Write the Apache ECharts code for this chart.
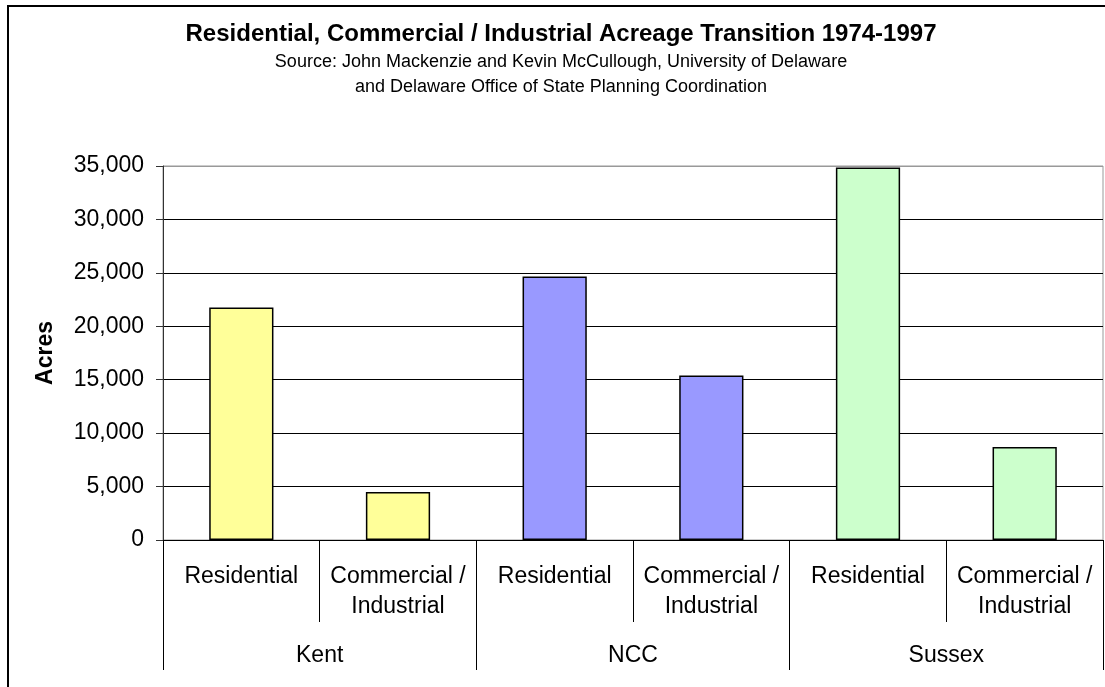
<!DOCTYPE html>
<html>
<head>
<meta charset="utf-8">
<script src="https://cdn.jsdelivr.net/npm/echarts@6/dist/echarts.min.js"></script>
<style>
  html, body { margin: 0; padding: 0; background: #fff; }
  #chart { width: 1105px; height: 687px; }
</style>
</head>
<body>
<div id="chart"></div>
<script>
const GROUPS = ['Kent', 'NCC', 'Sussex']
const SUBCATS = ['Residential', 'Commercial /\nIndustrial']
const ACRES = [21750, 4500, 24650, 15400, 34850, 8700]
const Y_TICKS = [0, 5000, 10000, 15000, 20000, 25000, 30000, 35000]
const GROUP_COLORS = ['#ffff99', '#9999ff', '#ccffcc']

const FONT = '"Liberation Sans", Arial, sans-serif'

const categories = GROUPS.flatMap(() => SUBCATS)

const chart = echarts.init(document.getElementById('chart'))

chart.setOption({
  backgroundColor: '#fff',
  animation: false,
  textStyle: { fontFamily: FONT },
  title: {
    text: 'Residential, Commercial / Industrial Acreage Transition 1974-1997',
    subtext: 'Source: John Mackenzie and Kevin McCullough, University of Delaware\nand Delaware Office of State Planning Coordination',
    left: 556,
    textAlign: 'center',
    top: 17,
    itemGap: 4,
    textStyle: { fontFamily: FONT, fontSize: 24, fontWeight: 'bold', color: '#000' },
    subtextStyle: { fontFamily: FONT, fontSize: 18, color: '#000', lineHeight: 25 },
  },
  graphic: [
    {
      type: 'rect',
      shape: { x: 8, y: 6, width: 1200, height: 800 },
      style: { fill: 'none', stroke: '#000', lineWidth: 2 },
      silent: true,
    },
  ],
  grid: {
    left: 163,
    right: 2,
    top: 166,
    bottom: 147,
    show: true,
    borderColor: '#999',
    borderWidth: 1,
  },
  xAxis: [
    {
      type: 'category',
      data: categories,
      position: 'bottom',
      axisLine: { show: true, lineStyle: { color: '#000', width: 1 } },
      axisTick: { show: true, alignWithLabel: false, length: 82, lineStyle: { color: '#000' } },
      axisLabel: {
        interval: 0,
        margin: 22,
        fontSize: 23,
        lineHeight: 30,
        color: '#000',
        verticalAlign: 'top',
      },
    },
    {
      type: 'category',
      data: GROUPS,
      position: 'bottom',
      axisLine: { show: false },
      axisTick: { show: true, alignWithLabel: false, length: 130, lineStyle: { color: '#000' } },
      axisLabel: {
        interval: 0,
        margin: 101,
        fontSize: 23,
        lineHeight: 30,
        color: '#000',
      },
    },
  ],
  yAxis: {
    type: 'value',
    min: Y_TICKS[0],
    max: Y_TICKS[Y_TICKS.length - 1],
    interval: 5000,
    name: 'Acres',
    nameLocation: 'middle',
    nameGap: 106,
    nameTextStyle: { fontFamily: FONT, fontSize: 23, fontWeight: 'bold', color: '#000' },
    axisLine: { show: true, lineStyle: { color: '#333', width: 1 } },
    axisTick: { show: true, length: 7, lineStyle: { color: '#333' } },
    axisLabel: {
      margin: 19,
      fontSize: 23,
      color: '#000',
      formatter: (v) => v.toLocaleString('en-US'),
    },
    splitLine: {
      show: true,
      lineStyle: {
        color: Y_TICKS.map((t, i) => (i === Y_TICKS.length - 1 ? '#999' : '#000')),
        width: 1,
      },
    },
  },
  series: [
    {
      type: 'bar',
      xAxisIndex: 0,
      barWidth: '41%',
      data: ACRES.map((v, i) => ({
        value: v,
        itemStyle: { color: GROUP_COLORS[Math.floor(i / SUBCATS.length)] },
      })),
      itemStyle: { borderColor: '#000', borderWidth: 1.5 },
    },
  ],
})
</script>
</body>
</html>
